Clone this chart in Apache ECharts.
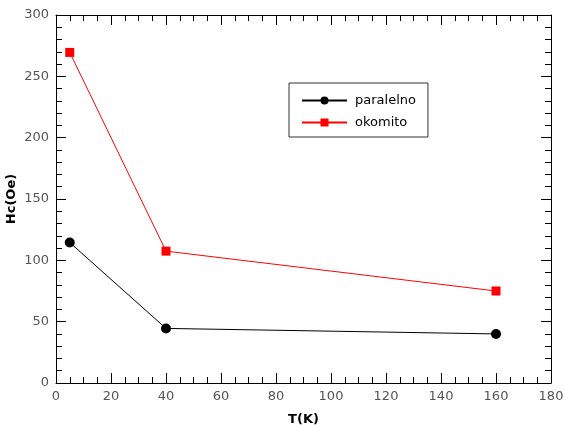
<!DOCTYPE html>
<html><head><meta charset="utf-8">
<script src="https://cdn.jsdelivr.net/npm/echarts@6/dist/echarts.min.js"></script>
<style>html,body{margin:0;padding:0;background:#fff}#c{width:564px;height:425px}</style>
</head><body><div id="c"></div>
<script>
const temperatures = [5, 40, 160];
const paralelno = [114.5, 44.5, 40];
const okomito = [269.5, 107.5, 75];
const seriesNames = ['paralelno', 'okomito'];
const xLabel = 'T(K)';
const yLabel = 'Hc(Oe)';

const font = 'DejaVu Sans';
const chart = echarts.init(document.getElementById('c'), null, {renderer: 'canvas'});
const axisLineStyle = {color: '#000', width: 1};
function xAx(pos, show) {
  return {
    type: 'value', min: 0, max: 180, interval: 20, position: pos,
    name: show ? xLabel : '', nameLocation: 'middle', nameGap: 30,
    nameTextStyle: {fontFamily: font, fontSize: 13, fontWeight: 'bold', color: '#000'},
    axisLine: {show: true, onZero: false, lineStyle: axisLineStyle},
    axisTick: {show: true, inside: true, length: 10, lineStyle: axisLineStyle},
    minorTick: {show: true, splitNumber: 4, length: 6, lineStyle: axisLineStyle},
    axisLabel: {show: show, fontFamily: font, fontSize: 13, color: '#555', margin: 7},
    splitLine: {show: false}
  };
}
function yAx(pos, show) {
  return {
    type: 'value', min: 0, max: 300, interval: 50, position: pos,
    name: show ? yLabel : '', nameLocation: 'middle', nameGap: 38, nameRotate: 90,
    nameMoveOverlap: false,
    nameTextStyle: {fontFamily: font, fontSize: 13, fontWeight: 'bold', color: '#000'},
    axisLine: {show: true, onZero: false, lineStyle: axisLineStyle},
    axisTick: {show: true, inside: true, length: 10, lineStyle: axisLineStyle},
    minorTick: {show: true, splitNumber: 5, length: 6, lineStyle: axisLineStyle},
    axisLabel: {show: show, fontFamily: font, fontSize: 13, color: '#555', margin: 7},
    splitLine: {show: false}
  };
}
chart.setOption({
  animation: false,
  grid: {left: 56, top: 15, right: 13, bottom: 42, containLabel: false, outerBoundsMode: 'none'},
  xAxis: [xAx('bottom', true), xAx('top', false)],
  yAxis: [yAx('left', true), yAx('right', false)],
  legend: {
    orient: 'vertical', left: 289, top: 83,
    data: seriesNames,
    itemWidth: 45, itemHeight: 10, itemGap: 9,
    padding: [11, 12, 8, 12],
    borderColor: '#333', borderWidth: 1,
    textStyle: {fontFamily: font, fontSize: 13, color: '#000', padding: [0, 0, 0, 3]}
  },
  series: [
    {name: seriesNames[0], type: 'line', data: temperatures.map((t, i) => [t, paralelno[i]]),
     symbol: 'circle', symbolSize: 10, lineStyle: {color: '#000', width: 1},
     itemStyle: {color: '#000'}},
    {name: seriesNames[1], type: 'line', data: temperatures.map((t, i) => [t, okomito[i]]),
     symbol: 'rect', symbolSize: 9, lineStyle: {color: '#ff0000', width: 1},
     itemStyle: {color: '#ff0000'}}
  ]
});
</script></body></html>
